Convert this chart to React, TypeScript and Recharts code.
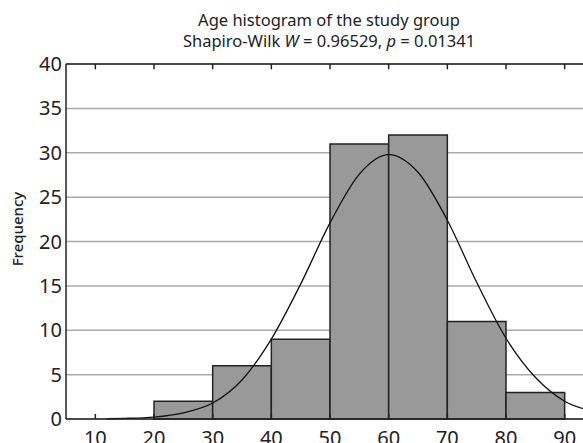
import { ComposedChart, Line, XAxis, YAxis, CartesianGrid, ReferenceArea, ReferenceLine } from 'recharts'

// histogram bins (age, years) and counts
const binStarts = [20, 30, 40, 50, 60, 70, 80]
const binWidth = 10
const counts = [2, 6, 9, 31, 32, 11, 3]

// fitted normal curve
const curveX = [12, 15, 20, 25, 30, 35, 40, 45, 50, 55, 60, 65, 70, 75, 80, 85, 90, 95]
const curveY = [0.03, 0.07, 0.22, 0.7, 1.8, 4.4, 9.0, 15.2, 22.1, 27.6, 29.8, 27.8, 22.4, 15.4, 9.1, 4.7, 2.0, 0.85]

const xTicks = [10, 20, 30, 40, 50, 60, 70, 80, 90]
const yTicks = [0, 5, 10, 15, 20, 25, 30, 35, 40]
const yMax = 40

const curveData = curveX.map((x, i) => ({ x, y: curveY[i] }))

const font = '"Noto Sans", sans-serif'

// bottom tick: inward mark + label below the axis
const BottomTick = (props: any) => {
  const { x, y, payload } = props
  return (
    <g>
      <line x1={x} x2={x} y1={y} y2={y - 5} stroke="#222" strokeWidth={1.5} />
      <text x={x} y={y + 12} dy="0.71em" textAnchor="middle" fill="#222" fontSize={20} fontFamily={font}>
        {payload.value}
      </text>
    </g>
  )
}

export default function App() {
  return (
    <div style={{ position: 'absolute', left: 0, top: 0, width: 583, height: 443, overflow: 'hidden', background: '#fff', fontFamily: font }}>
      <div style={{ position: 'absolute', left: 79, width: 500, top: 9, textAlign: 'center', fontSize: 16.5, lineHeight: '21px', color: '#222' }}>
        <div>Age histogram of the study group</div>
        <div>Shapiro-Wilk <i>W</i> = 0.96529, <i>p</i> = 0.01341</div>
      </div>
      <div style={{ position: 'absolute', left: 17, top: 229, transform: 'translate(-50%, -50%) rotate(-90deg)', fontSize: 15, fontWeight: 500, color: '#222', whiteSpace: 'nowrap' }}>
        Frequency
      </div>
      <ComposedChart width={594} height={443} margin={{ top: 64, right: 0, bottom: 0, left: 0 }}>
        <CartesianGrid vertical={false} stroke="#aaaaaa" strokeWidth={1.5} />
        <XAxis
          type="number"
          dataKey="x"
          domain={[5, 95]}
          ticks={xTicks}
          height={24}
          tickLine={false}
          tickSize={0}
          tickMargin={0}
          stroke="#222"
          strokeWidth={1.5}
          tick={BottomTick}
        />
        <YAxis
          type="number"
          domain={[0, yMax]}
          ticks={yTicks}
          width={66}
          tickLine={false}
          tickSize={2}
          tickMargin={2}
          stroke="#222"
          strokeWidth={1.5}
          tick={{ fill: '#222', fontSize: 20, fontFamily: font }}
        />
        {binStarts.map((s, i) => (
          <ReferenceArea
            key={s}
            x1={s}
            x2={s + binWidth}
            y1={0}
            y2={counts[i]}
            fill="#999999"
            fillOpacity={1}
            stroke="#222"
            strokeWidth={1.5}
          />
        ))}
        {/* top frame with inward ticks */}
        <ReferenceLine y={yMax} stroke="#222" strokeWidth={1.5} />
        {xTicks.map((t) => (
          <ReferenceLine
            key={'top' + t}
            segment={[{ x: t, y: yMax }, { x: t, y: yMax - 0.6 }]}
            stroke="#222"
            strokeWidth={1.5}
          />
        ))}
        <Line
          data={curveData}
          dataKey="y"
          type="monotone"
          stroke="#111"
          strokeWidth={1.3}
          dot={false}
          isAnimationActive={false}
        />
      </ComposedChart>
    </div>
  )
}
